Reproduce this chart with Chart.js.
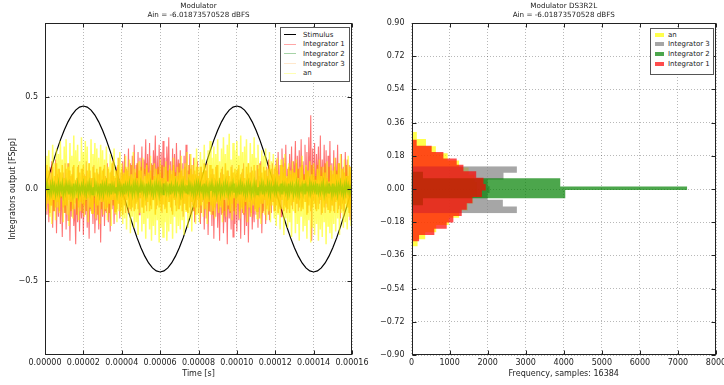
<!DOCTYPE html>
<html>
<head>
<meta charset="utf-8">
<script src="https://cdn.jsdelivr.net/npm/chart.js@4.4.0/dist/chart.umd.min.js"></script>
<style>
  html, body { margin: 0; padding: 0; background: #fff; }
  #wrap { position: relative; width: 724px; height: 385px; overflow: hidden;
          font-family: 'DejaVu Sans', sans-serif; color: #222; }
  canvas { position: absolute; top: 0; }
  #cLeft { left: 0; }
  #cRight { left: 362px; }
  .legend { position: absolute; background: #fff; border: 1px solid #555; box-sizing: border-box;
            font-size: 7px; }
  .legend .row { position: absolute; left: 0; right: 0; height: 10px; }
  .legend .mark { position: absolute; }
  .legend .txt { position: absolute; top: 0; line-height: 10px; white-space: nowrap; }
  #legLeft { left: 280px; top: 27px; width: 70px; height: 55px; }
  #legRight { left: 650px; top: 28px; width: 64px; height: 47px; }
</style>
</head>
<body>
<div id="wrap">
  <canvas id="cLeft" width="390" height="385"></canvas>
  <canvas id="cRight" width="362" height="385"></canvas>
  <div id="legLeft" class="legend"></div>
  <div id="legRight" class="legend"></div>
</div>
<script>
// ---------------- time-domain traces ----------------
const T_END = 0.00016;            // seconds shown on the time axis
const timeTicks = [0, 0.00002, 0.00004, 0.00006, 0.00008, 0.0001, 0.00012, 0.00014, 0.00016];
const levelTicks = [-0.5, 0, 0.5];

// stimulus sampled every 2 us
const stimulus = [
  0, .070, .139, .204, .265, .318, .364, .401, .428, .444, .450, .444, .428, .401, .364, .318, .265, .204, .139, .070,
  0, -.070, -.139, -.204, -.265, -.318, -.364, -.401, -.428, -.444, -.450, -.444, -.428, -.401, -.364, -.318, -.265, -.204, -.139, -.070,
  0, .070, .139, .204, .265, .318, .364, .401, .428, .444, .450, .444, .428, .401, .364, .318, .265, .204, .139, .070,
  0, -.070, -.139, -.204, -.265, -.318, -.364, -.401, -.428, -.444, -.450, -.444, -.428, -.401, -.364, -.318, -.265, -.204, -.139, -.070,
  0
];

// integrator / output traces sampled every 0.5 us
const integrator1 = [
  -.05,.10,-.14,.06,-.18,.12,-.09,.15,-.21,.04,-.12,.16,-.24,.08,-.15,.11,-.19,.03,-.26,.09,
  -.13,.14,-.22,.05,-.17,.10,-.28,.07,-.15,.12,-.20,-.08,-.30,.06,-.18,.13,-.23,.02,-.16,.11,
  -.25,.08,-.14,.15,-.21,.04,-.27,.10,-.12,.06,-.19,.13,-.24,-.03,-.17,.09,-.22,.12,-.29,.05,
  -.15,.11,-.20,.07,-.13,.14,-.18,.03,-.23,.10,-.11,.16,-.19,.06,-.14,.12,-.08,.17,-.16,.09,
  -.10,.15,-.06,.19,-.13,.11,-.04,.22,-.09,.14,-.12,.18,-.02,.24,-.11,.13,-.07,.20,-.14,.17,
  -.05,.23,-.10,.16,.08,.27,-.12,.19,-.03,.25,-.09,.14,-.06,.21,.05,.29,-.11,.18,-.04,.24,
  -.08,.20,-.13,.26,-.02,.17,-.10,.23,.04,.28,-.07,.15,-.12,.22,-.05,.19,-.09,.25,.02,.16,
  -.11,.21,-.06,.14,-.15,.18,-.08,.24,-.12,.10,-.04,.19,-.14,.13,-.09,.17,-.18,.08,-.10,.15,
  -.13,.09,-.19,.12,-.07,.05,-.22,.10,-.16,.14,-.25,.04,-.12,.08,-.20,.11,-.27,.06,-.15,.13,
  -.21,.03,-.28,.09,-.14,.12,-.24,-.05,-.18,.07,-.30,.10,-.16,.04,-.22,.13,-.26,.01,-.19,.08,
  -.23,.11,-.17,.05,-.27,.09,-.13,.14,-.25,.02,-.20,.08,-.29,.06,-.15,.12,-.22,-.04,-.18,.10,
  -.14,.13,-.21,.07,-.16,.15,-.24,.04,-.12,.10,-.19,.12,-.09,.16,-.17,.05,-.13,.14,-.07,.11,
  -.12,.16,-.05,.20,-.10,.13,-.15,.22,-.03,.17,-.09,.24,-.13,.11,-.06,.19,-.02,.23,-.11,.15,
  .04,.26,-.08,.18,-.12,.21,-.05,.27,-.10,.15,.03,.24,-.07,.20,-.13,.28,-.04,.40,-.28,.22,
  -.06,.25,-.11,.19,.02,.23,-.08,.29,-.14,.16,-.03,.24,-.13,.21,-.10,.18,-.05,.26,-.12,.14,
  -.09,.21,-.13,.17,-.06,.24,-.11,.14,-.16,.19,-.08,.12,-.14,.20,-.05,.16,-.10,.13,-.17,.09,
  -.12
];
const integrator2 = [
  .02,-.01,.03,-.02,.01,-.03,.02,-.02,.03,-.01,.02,-.03,.01,-.02,.03,-.02,.02,-.01,.03,-.03,
  .01,-.02,.03,-.01,.02,-.03,.02,-.02,.01,-.03,.03,-.02,.02,-.01,.03,-.03,.01,-.02,.02,-.01,
  .03,-.02,.01,-.03,.02,-.01,.03,-.02,.02,-.03,.01,-.02,.03,-.01,.02,-.02,.01,-.03,.03,-.02,
  .02,-.03,.02,-.01,.03,-.02,.01,-.02,.03,-.03,.02,-.01,.02,-.02,.01,-.03,.03,-.01,.02,-.02,
  .01,-.02,.03,-.03,.02,-.01,.02,-.02,.03,-.01,.01,-.03,.02,-.02,.03,-.01,.02,-.03,.01,-.02,
  .03,-.01,.02,-.02,.01,-.03,.03,-.02,.02,-.01,.03,-.02,.01,-.03,.02,-.02,.03,-.01,.02,-.03,
  .02,-.02,.01,-.03,.03,-.01,.02,-.02,.01,-.02,.03,-.03,.02,-.01,.01,-.02,.03,-.02,.02,-.01,
  .01,-.03,.02,-.02,.03,-.01,.01,-.02,.02,-.03,.03,-.01,.02,-.02,.01,-.03,.02,-.02,.03,-.01,
  .03,-.02,.02,-.01,.01,-.03,.03,-.02,.02,-.02,.01,-.03,.02,-.01,.03,-.02,.01,-.02,.02,-.03,
  .02,-.01,.03,-.03,.01,-.02,.02,-.02,.03,-.01,.02,-.03,.01,-.02,.02,-.01,.03,-.02,.01,-.03,
  .01,-.02,.02,-.03,.03,-.01,.02,-.02,.01,-.03,.02,-.02,.03,-.01,.02,-.03,.01,-.02,.03,-.02,
  .02,-.03,.01,-.02,.02,-.01,.03,-.03,.02,-.02,.01,-.01,.03,-.02,.02,-.03,.02,-.01,.01,-.02,
  .03,-.02,.02,-.01,.01,-.02,.03,-.03,.02,-.01,.02,-.02,.01,-.03,.03,-.02,.02,-.01,.02,-.03,
  .01,-.02,.03,-.02,.02,-.03,.01,-.01,.02,-.02,.03,-.03,.02,-.01,.01,-.02,.03,-.02,.02,-.01,
  .02,-.01,.02,-.03,.03,-.02,.01,-.02,.02,-.01,.03,-.03,.01,-.02,.02,-.02,.03,-.01,.01,-.03,
  .03,-.02,.01,-.02,.02,-.03,.02,-.01,.03,-.02,.01,-.03,.02,-.02,.03,-.01,.02,-.02,.01,-.02,
  .02
];
const integrator3 = [
  .08,-.11,.13,-.06,.10,-.13,.05,-.09,.12,-.12,.07,-.10,.14,-.07,.11,-.12,.09,-.05,.13,-.10,
  .06,-.13,.11,-.09,.14,-.06,.10,-.12,.08,-.11,.13,-.08,.05,-.14,.12,-.10,.09,-.07,.11,-.13,
  .13,-.09,.07,-.12,.10,-.05,.14,-.11,.06,-.13,.12,-.08,.09,-.10,.11,-.14,.08,-.06,.12,-.11,
  .10,-.07,.13,-.12,.06,-.10,.11,-.13,.09,-.06,.14,-.09,.07,-.12,.10,-.11,.13,-.08,.05,-.12,
  .11,-.14,.08,-.09,.12,-.06,.10,-.13,.07,-.11,.13,-.10,.06,-.12,.09,-.08,.14,-.11,.10,-.05,
  .12,-.10,.05,-.13,.11,-.09,.14,-.07,.08,-.12,.10,-.11,.13,-.06,.07,-.14,.11,-.09,.12,-.10,
  .09,-.12,.13,-.08,.06,-.11,.12,-.13,.10,-.07,.11,-.10,.08,-.14,.13,-.06,.09,-.12,.07,-.11,
  .14,-.09,.10,-.12,.07,-.08,.12,-.11,.05,-.13,.13,-.10,.11,-.07,.08,-.12,.10,-.14,.12,-.06,
  .07,-.10,.12,-.13,.09,-.06,.14,-.11,.10,-.08,.06,-.12,.13,-.09,.11,-.14,.08,-.10,.12,-.07,
  .13,-.11,.06,-.09,.11,-.13,.08,-.12,.14,-.05,.10,-.11,.07,-.13,.12,-.08,.09,-.12,.11,-.10,
  .10,-.06,.13,-.12,.08,-.10,.11,-.14,.06,-.09,.12,-.11,.14,-.07,.09,-.13,.10,-.08,.13,-.11,
  .05,-.12,.11,-.10,.14,-.08,.09,-.13,.12,-.06,.10,-.11,.07,-.14,.13,-.09,.11,-.07,.08,-.12,
  .12,-.09,.10,-.13,.07,-.11,.13,-.06,.09,-.12,.14,-.10,.06,-.11,.12,-.13,.08,-.09,.11,-.07,
  .09,-.13,.14,-.08,.11,-.10,.06,-.12,.13,-.11,.08,-.07,.12,-.14,.10,-.09,.07,-.12,.13,-.10,
  .11,-.08,.07,-.12,.13,-.11,.10,-.06,.12,-.13,.09,-.10,.14,-.08,.06,-.11,.12,-.13,.10,-.09,
  .08,-.12,.12,-.07,.10,-.13,.14,-.09,.06,-.11,.11,-.12,.09,-.08,.13,-.10,.07,-.13,.12,-.11,
  .09
];
const an = [
  .05,-.12,.18,-.08,.21,-.15,.09,-.19,.24,-.06,.14,-.17,.22,-.10,.19,-.13,.26,-.04,.16,-.18,
  .23,-.09,.27,-.14,.12,-.20,.25,-.07,.18,-.16,.29,-.11,.21,-.05,.24,-.17,.15,-.12,.28,-.08,
  .20,-.15,.26,-.06,.23,-.18,.14,-.10,.27,-.13,.19,-.04,.25,-.16,.22,-.09,.17,-.19,.24,-.07,
  .21,-.14,.16,-.11,.23,-.17,.12,-.08,.19,-.20,.15,-.06,.22,-.13,.10,-.18,.17,-.12,.20,-.15,
  .14,-.19,.09,-.16,.18,-.22,.12,-.10,.16,-.24,.08,-.15,.20,-.21,.11,-.18,.06,-.25,.15,-.13,
  .10,-.23,.17,-.19,.07,-.27,.13,-.16,.09,-.22,.18,-.28,.05,-.20,.14,-.25,.11,-.17,.08,-.29,
  .16,-.21,.06,-.26,.12,-.18,.15,-.28,.04,-.23,.13,-.19,.10,-.27,.17,-.15,.07,-.24,.12,-.20,
  .09,-.22,.18,-.17,.11,-.25,.14,-.12,.20,-.21,.08,-.16,.19,-.23,.13,-.10,.17,-.19,.22,-.14,
  .12,-.18,.20,-.09,.16,-.15,.24,-.11,.13,-.19,.21,-.07,.26,-.14,.17,-.12,.23,-.16,.19,-.08,
  .27,-.13,.15,-.10,.22,-.18,.28,-.06,.19,-.15,.24,-.09,.30,-.12,.16,-.17,.25,-.05,.21,-.14,
  .26,-.08,.18,-.16,.29,-.11,.20,-.13,.23,-.07,.27,-.18,.14,-.10,.25,-.15,.19,-.09,.28,-.12,
  .17,-.16,.24,-.10,.13,-.19,.21,-.08,.18,-.14,.22,-.17,.11,-.12,.20,-.18,.15,-.09,.19,-.16,
  .13,-.20,.17,-.14,.08,-.22,.16,-.11,.12,-.25,.19,-.16,.07,-.21,.14,-.18,.10,-.26,.15,-.12,
  .09,-.24,.16,-.19,.06,-.28,.12,-.15,.18,-.23,.05,-.20,.13,-.27,.10,-.17,.15,-.29,.08,-.21,
  .14,-.25,.05,-.19,.11,-.28,.16,-.22,.07,-.26,.12,-.18,.09,-.30,.15,-.20,.04,-.24,.13,-.27,
  .10,-.19,.17,-.23,.08,-.16,.14,-.25,.19,-.13,.11,-.21,.16,-.18,.07,-.22,.18,-.15,.12,-.20,
  .06
];

// ---------------- histograms (bin edges ascending, counts per bin) ----------------
const countTicks = [0, 1000, 2000, 3000, 4000, 5000, 6000, 7000, 8000];
const histLevelTicks = [-0.9, -0.72, -0.54, -0.36, -0.18, 0, 0.18, 0.36, 0.54, 0.72, 0.9];

const anEdges = [-0.312, -0.273, -0.234, -0.195, -0.156, -0.117, -0.078, -0.039, 0.000,
                 0.038, 0.077, 0.116, 0.155, 0.194, 0.232, 0.271, 0.310];
const anCounts = [160, 360, 650, 980, 1250, 1480, 1620, 1700, 1720, 1650, 1500, 1250, 950, 640, 380, 140];

const int3Edges = [-0.131, -0.095, -0.058, -0.022, 0.015, 0.051, 0.088, 0.124];
const int3Counts = [2768, 2400, 2000, 2050, 2000, 2417, 2768];

const int2Edges = [-0.090, -0.050, -0.005, 0.013, 0.058, 0.095];
const int2Counts = [300, 4040, 7240, 3908, 300];

const int1Edges = [-0.285, -0.250, -0.216, -0.181, -0.146, -0.112, -0.077, -0.043, -0.008,
                   0.027, 0.061, 0.096, 0.131, 0.165, 0.200, 0.234, 0.269];
const int1Counts = [200, 600, 925, 1100, 1320, 1452, 1600, 1850, 1950, 1890, 1700, 1364, 1188, 838, 530, 136];

// ---------------- helpers ----------------
const FONT = "'DejaVu Sans', sans-serif";
const INK = '#222';
Chart.defaults.font.family = FONT;
Chart.defaults.color = INK;

function series(values) {
  const step = T_END / (values.length - 1);
  return values.map((v, i) => ({ x: i * step, y: v }));
}

// outline of a horizontal histogram: walks up the bin edges at each bin's count
function histOutline(edges, counts) {
  const pts = [{ x: 0, y: edges[0] }];
  counts.forEach((c, i) => {
    pts.push({ x: c, y: edges[i] });
    pts.push({ x: c, y: edges[i + 1] });
  });
  pts.push({ x: 0, y: edges[edges.length - 1] });
  return pts;
}

const minus = s => s.replace('-', '\u2212');

function fixedTicks(list) {
  return scale => { scale.ticks = list.map(v => ({ value: v })); };
}

// black frame round the plot area with inward tick marks on all four sides
const framePlugin = {
  id: 'frame',
  afterDatasetsDraw(chart) {
    const { ctx, chartArea: a, scales } = chart;
    const L = Math.round(a.left) + 0.5, R = Math.round(a.right) - 0.5;
    const T = Math.round(a.top) + 0.5, B = Math.round(a.bottom) - 0.5;
    ctx.save();
    ctx.strokeStyle = INK;
    ctx.lineWidth = 1;
    ctx.beginPath();
    scales.x.ticks.forEach(t => {
      const p = Math.round(scales.x.getPixelForValue(t.value)) + 0.5;
      ctx.moveTo(p, B); ctx.lineTo(p, B - 4);
      ctx.moveTo(p, T); ctx.lineTo(p, T + 4);
    });
    scales.y.ticks.forEach(t => {
      const p = Math.round(scales.y.getPixelForValue(t.value)) + 0.5;
      ctx.moveTo(L, p); ctx.lineTo(L + 4, p);
      ctx.moveTo(R, p); ctx.lineTo(R - 4, p);
    });
    ctx.stroke();
    ctx.strokeRect(L, T, R - L, B - T);
    ctx.restore();
  }
};

const gridStyle = { color: 'rgba(0,0,0,0.28)', lineWidth: 1, drawTicks: false };
const borderStyle = { display: false, dash: [1, 2] };

function titleBlock(lines) {
  return {
    display: true, text: lines, fullSize: false, color: INK,
    font: { family: FONT, size: 7.2, weight: 'normal', lineHeight: 1.25 },
    padding: { top: 2, bottom: 3 }
  };
}

function xAxis(min, max, ticks, label, fmt) {
  return {
    type: 'linear', min, max,
    afterBuildTicks: fixedTicks(ticks),
    afterFit: s => { s.height = 30; s.paddingLeft = 0; s.paddingRight = 0; },
    grid: gridStyle, border: borderStyle,
    ticks: { font: { size: 8 }, padding: 3, maxRotation: 0, autoSkip: false, callback: fmt },
    title: { display: true, text: label, font: { size: 8 }, padding: { top: 0, bottom: 6 } }
  };
}

function yAxis(ticks, width, fmt, label) {
  const axis = {
    type: 'linear', min: -0.9, max: 0.9,
    afterBuildTicks: fixedTicks(ticks),
    afterFit: s => { s.width = width; s.paddingTop = 0; s.paddingBottom = 0; },
    grid: gridStyle, border: borderStyle,
    ticks: { font: { size: 8 }, padding: 7, autoSkip: false, callback: fmt }
  };
  if (label) axis.title = { display: true, text: label, font: { size: 8 }, padding: { top: 8.2, bottom: 0 } };
  return axis;
}

// ---------------- left: integrator outputs over time ----------------
// order: lower numbers are painted later (on top)
const traceDefs = [
  { label: 'Stimulus',     values: stimulus,    color: 'rgba(0,0,0,1)',        key: 'rgba(0,0,0,1)',        width: 1.2, order: 5 },
  { label: 'Integrator 1', values: integrator1, color: 'rgba(255,0,0,0.55)',   key: 'rgba(255,0,0,0.35)',   width: 1.1, order: 4 },
  { label: 'Integrator 2', values: integrator2, color: 'rgba(0,128,0,0.7)',    key: 'rgba(0,128,0,0.35)',   width: 1.5, order: 2 },
  { label: 'Integrator 3', values: integrator3, color: 'rgba(255,140,0,0.75)', key: 'rgba(255,140,0,0.2)',  width: 1.5, order: 3 },
  { label: 'an',           values: an,          color: 'rgba(255,255,0,0.6)',  key: 'rgba(255,255,0,0.3)',  width: 1.5, order: 1 }
];

new Chart(document.getElementById('cLeft'), {
  type: 'line',
  data: {
    datasets: traceDefs.map(d => ({
      label: d.label, data: series(d.values), borderColor: d.color, borderWidth: d.width,
      pointRadius: 0, tension: 0, fill: false, order: d.order
    }))
  },
  options: {
    responsive: false, animation: false, events: [], parsing: false,
    layout: { padding: { left: 0, right: 38, top: 0, bottom: 0 } },
    plugins: {
      legend: { display: false }, tooltip: { enabled: false },
      title: titleBlock(['Modulator', 'Ain = -6.01873570528 dBFS'])
    },
    scales: {
      x: xAxis(0, T_END, timeTicks, 'Time [s]', v => Number(v).toFixed(5)),
      y: yAxis(levelTicks, 45, v => minus(Number(v).toFixed(1)), 'Integrators output [FSpp]')
    }
  },
  plugins: [framePlugin]
});

// ---------------- right: level histograms ----------------
const histDefs = [
  { label: 'an',           edges: anEdges,   counts: anCounts,   color: 'rgba(255,255,0,0.7)',   order: 4 },
  { label: 'Integrator 3', edges: int3Edges, counts: int3Counts, color: 'rgba(128,128,128,0.7)', order: 3 },
  { label: 'Integrator 2', edges: int2Edges, counts: int2Counts, color: 'rgba(0,128,0,0.7)',     order: 2 },
  { label: 'Integrator 1', edges: int1Edges, counts: int1Counts, color: 'rgba(255,0,0,0.7)',     order: 1 }
];

new Chart(document.getElementById('cRight'), {
  type: 'line',
  data: {
    datasets: histDefs.map(d => ({
      label: d.label, data: histOutline(d.edges, d.counts),
      borderColor: 'rgba(0,0,0,0)', borderWidth: 1, backgroundColor: d.color,
      pointRadius: 0, tension: 0, fill: 'origin', order: d.order
    }))
  },
  options: {
    indexAxis: 'y',
    responsive: false, animation: false, events: [], parsing: false,
    layout: { padding: { left: 0, right: 8, top: 0, bottom: 0 } },
    plugins: {
      legend: { display: false }, tooltip: { enabled: false },
      title: titleBlock(['Modulator DS3R2L', 'Ain = -6.01873570528 dBFS'])
    },
    scales: {
      x: xAxis(0, 8000, countTicks, 'Frequency, samples: 16384', v => String(v)),
      y: yAxis(histLevelTicks, 49.5, v => minus(Number(v).toFixed(2)))
    }
  },
  plugins: [framePlugin]
});

// ---------------- legends ----------------
function buildLegend(el, items, firstCenter, step, markFn, textLeft) {
  items.forEach((it, i) => {
    const row = document.createElement('div');
    row.className = 'row';
    row.style.top = (firstCenter + i * step - 5) + 'px';
    const mark = document.createElement('div');
    mark.className = 'mark';
    markFn(mark, it);
    const txt = document.createElement('div');
    txt.className = 'txt';
    txt.style.left = textLeft + 'px';
    txt.textContent = it.label;
    row.appendChild(mark);
    row.appendChild(txt);
    el.appendChild(row);
  });
}

buildLegend(document.getElementById('legLeft'), traceDefs, 6.5, 9.7, (m, it) => {
  m.style.left = '3px'; m.style.top = '4.5px'; m.style.width = '12px'; m.style.height = '1px';
  m.style.background = it.key;
}, 22);

buildLegend(document.getElementById('legRight'), histDefs, 5.5, 9.8, (m, it) => {
  m.style.left = '4px'; m.style.top = '3px'; m.style.width = '9px'; m.style.height = '4px';
  m.style.background = it.color;
}, 17);
</script>
</body>
</html>
